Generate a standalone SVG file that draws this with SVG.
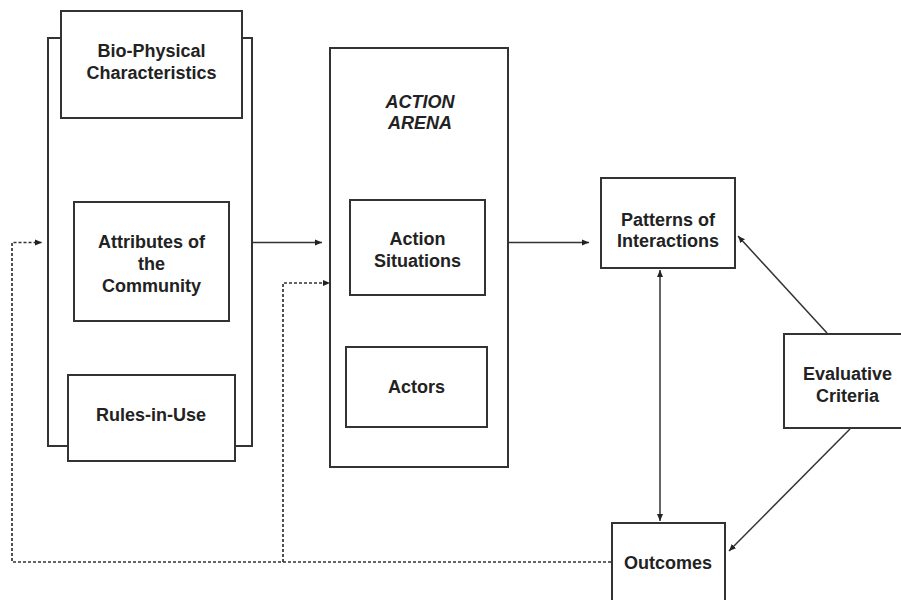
<svg xmlns="http://www.w3.org/2000/svg" width="901" height="600" viewBox="0 0 901 600">
  <style>
    .box { fill: #fff; stroke: #333; stroke-width: 2; }
    .lbl { font-family: "Liberation Sans", Arial, sans-serif; font-weight: bold; font-size: 18px; fill: #222; text-anchor: middle; }
    .it { font-style: italic; }
    .solid { fill: none; stroke: #333; stroke-width: 1.5; }
    .dash { fill: none; stroke: #333; stroke-width: 1.7; stroke-dasharray: 3 2; }
  </style>
  <defs>
    <marker id="ah" markerWidth="8" markerHeight="8" refX="7" refY="4" orient="auto" markerUnits="userSpaceOnUse">
      <path d="M0,1 L7,4 L0,7 Z" fill="#222"/>
    </marker>
    <marker id="ahs" markerWidth="8" markerHeight="8" refX="1" refY="4" orient="auto" markerUnits="userSpaceOnUse">
      <path d="M8,1 L1,4 L8,7 Z" fill="#222"/>
    </marker>
  </defs>
  <rect width="901" height="600" fill="#fff"/>

  <!-- left stack: institutional and physical context -->
  <g id="context">
    <rect class="box" x="48" y="38" width="204" height="408"/>
  </g>
  <g id="bio-physical">
    <rect class="box" x="61" y="11" width="181" height="107"/>
    <text class="lbl" x="151.5" y="57">Bio-Physical</text>
    <text class="lbl" x="151.5" y="79">Characteristics</text>
  </g>
  <g id="attributes">
    <rect class="box" x="74" y="202" width="155" height="119"/>
    <text class="lbl" x="151.5" y="248">Attributes of</text>
    <text class="lbl" x="151.5" y="270">the</text>
    <text class="lbl" x="151.5" y="292">Community</text>
  </g>
  <g id="rules">
    <rect class="box" x="68" y="375" width="167" height="86"/>
    <text class="lbl" x="151" y="421">Rules-in-Use</text>
  </g>

  <!-- action arena -->
  <g id="action-arena">
    <rect class="box" x="330" y="48" width="178" height="419"/>
    <text class="lbl it" x="420" y="108">ACTION</text>
    <text class="lbl it" x="420" y="129">ARENA</text>
  </g>
  <g id="action-situations">
    <rect class="box" x="350" y="200" width="135" height="95"/>
    <text class="lbl" x="417.5" y="245">Action</text>
    <text class="lbl" x="417.5" y="267">Situations</text>
  </g>
  <g id="actors">
    <rect class="box" x="346" y="347" width="141" height="80"/>
    <text class="lbl" x="416.5" y="393">Actors</text>
  </g>

  <!-- right side -->
  <g id="patterns">
    <rect class="box" x="601" y="178" width="134" height="90"/>
    <text class="lbl" x="668" y="226">Patterns of</text>
    <text class="lbl" x="668" y="247">Interactions</text>
  </g>
  <g id="evaluative">
    <rect class="box" x="784" y="334" width="130" height="94"/>
    <text class="lbl" x="847.5" y="380">Evaluative</text>
    <text class="lbl" x="847.5" y="402">Criteria</text>
  </g>
  <g id="outcomes">
    <rect class="box" x="612" y="523" width="113" height="90"/>
    <text class="lbl" x="668" y="569">Outcomes</text>
  </g>

  <!-- connectors -->
  <g id="connectors">
    <line class="solid" x1="253" y1="242.5" x2="322" y2="242.5" marker-end="url(#ah)"/>
    <line class="solid" x1="509" y1="242.5" x2="589" y2="242.5" marker-end="url(#ah)"/>
    <line class="solid" x1="660" y1="270" x2="660" y2="521" marker-start="url(#ahs)" marker-end="url(#ah)"/>
    <line class="solid" x1="827" y1="333" x2="738" y2="236" marker-end="url(#ah)"/>
    <line class="solid" x1="850" y1="429" x2="729" y2="551" marker-end="url(#ah)"/>
    <path class="dash" d="M611,562 H12 V242.5 H42" marker-end="url(#ah)"/>
    <path class="dash" d="M283,562 V283 H330" marker-end="url(#ah)"/>
  </g>
</svg>
